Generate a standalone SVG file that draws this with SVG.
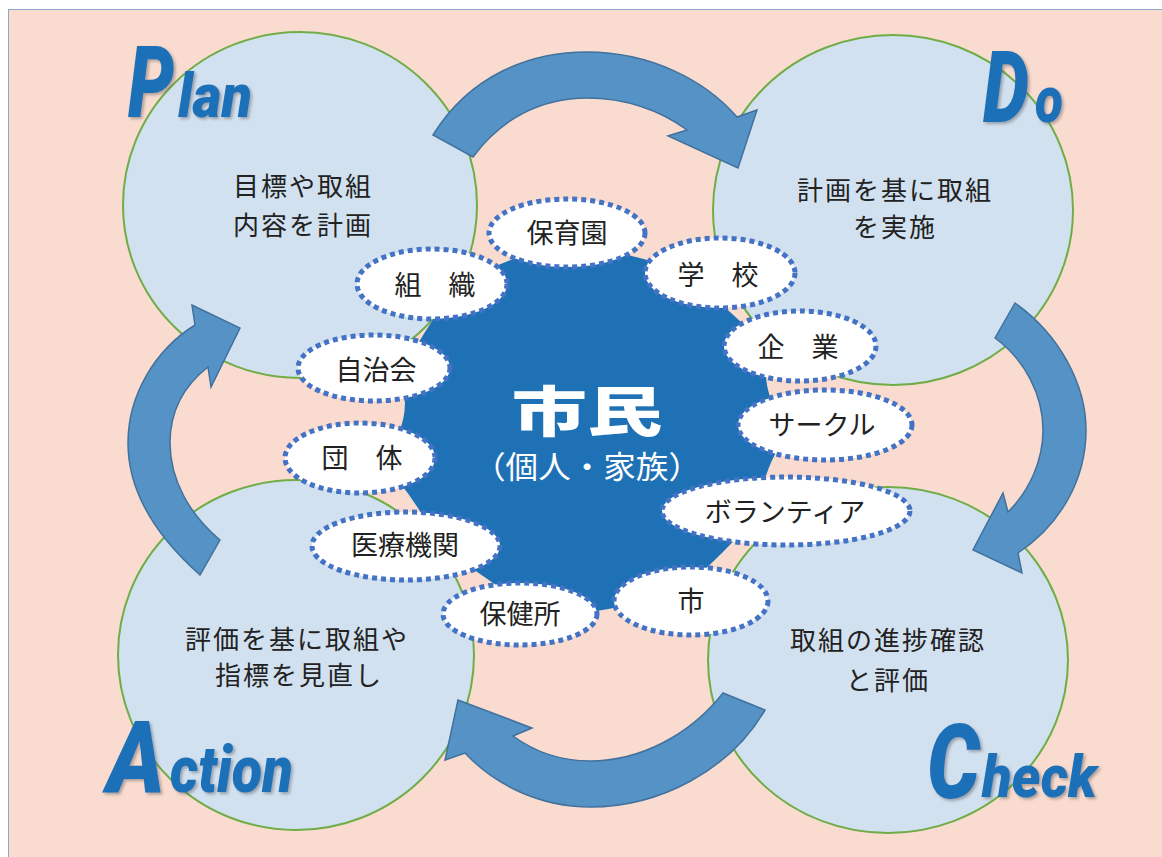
<svg xmlns="http://www.w3.org/2000/svg" width="1162" height="857" viewBox="0 0 1162 857">
<defs>
<style>
.circ{fill:#D2E1F0;stroke:#70AD47;stroke-width:2}
.arr{fill:#5592C6;stroke:#41719C;stroke-width:1.5;stroke-linejoin:miter}
.oval{fill:#FFFFFF;stroke:#4472C4;stroke-width:5;stroke-dasharray:5 4}
.jp{font-family:"Noto Sans CJK JP","Noto Sans CJK SC",sans-serif;fill:#222222;text-anchor:middle}
.ct{font-size:26px;letter-spacing:2px}
.lb{font-size:27px}
.big{font-family:Roboto,"Liberation Sans",sans-serif;font-weight:900;font-style:italic;fill:#1E70B8;filter:url(#sh)}
</style>
<filter id="sh" x="-20%" y="-20%" width="140%" height="140%">
<feDropShadow dx="2" dy="2" stdDeviation="1.5" flood-color="#555555" flood-opacity="0.45"/>
</filter>
</defs>
<rect x="8.5" y="9.5" width="1160" height="855" fill="#F9DCCF" stroke="#8EA9C9" stroke-width="1"/>

<g id="plan">
<ellipse class="circ" cx="300" cy="205" rx="177" ry="173"/>
<text class="jp ct" x="303" y="196">目標や取組</text>
<text class="jp ct" x="303" y="235">内容を計画</text>
</g>
<g id="do">
<ellipse class="circ" cx="893" cy="210" rx="180" ry="175"/>
<text class="jp ct" x="895" y="200">計画を基に取組</text>
<text class="jp ct" x="895" y="237">を実施</text>
</g>
<g id="action">
<ellipse class="circ" cx="296" cy="655" rx="178" ry="175"/>
<text class="jp ct" x="297" y="649">評価を基に取組や</text>
<text class="jp ct" x="299" y="685">指標を見直し</text>
</g>
<g id="check">
<ellipse class="circ" cx="888" cy="660" rx="180" ry="173"/>
<text class="jp ct" x="888" y="650">取組の進捗確認</text>
<text class="jp ct" x="888" y="690">と評価</text>
</g>

<g id="connectors">
<path class="arr" d="M433,135 C470,75 530,52 587,52 C650,52 705,80 737,117 L757,110 L738,168 L668,136 L687,130 C660,110 625,98 587,98 C540,98 500,120 473,157 Z"/>
<path class="arr" d="M1015,303 C1060,335 1086,385 1086,430 C1086,480 1060,525 1018,553 L1022,573 L973,550 L1003,493 L1008,512 C1030,490 1043,460 1043,430 C1043,395 1025,360 995,338 Z"/>
<path class="arr" d="M765,710 C730,770 660,807 590,807 C540,807 495,785 465,753 L445,760 L458,700 L532,728 L513,736 C535,752 560,761 590,761 C640,761 690,735 723,693 Z"/>
<path class="arr" d="M200,575 C155,535 128,490 128,443 C128,395 155,350 195,325 L192,305 L240,328 L211,387 L208,367 C185,385 170,410 170,443 C170,480 190,515 220,540 Z"/>
</g>

<g id="citizen">
<path fill="#1F71B6" d="M567,250 Q646.5,248.5 700,285 Q749,328.5 770,350 Q756,390 790,430 Q761,470 760,510 Q724,556 680,590 Q596,617.5 540,615 Q450,554 440,545 Q410,490 380,460 Q416,422.5 400,375 Q425,329 450,295 Q501.5,251.5 567,250 Z"/>
<text x="587" y="432" font-family="'Noto Sans CJK JP',sans-serif" font-weight="900" font-size="54" fill="#FFFFFF" text-anchor="middle" textLength="151" lengthAdjust="spacingAndGlyphs">市民</text>
<text x="587" y="478" font-family="'Noto Sans CJK JP',sans-serif" font-size="31" fill="#FFFFFF" text-anchor="middle" textLength="228" lengthAdjust="spacingAndGlyphs">（個人・家族）</text>
</g>

<g id="hoikuen"><ellipse class="oval" cx="567" cy="233" rx="78" ry="34"/><text class="jp lb" x="567" y="243">保育園</text></g>
<g id="soshiki"><ellipse class="oval" cx="432" cy="284" rx="75" ry="35"/><text class="jp lb" x="435" y="295">組　織</text></g>
<g id="gakko"><ellipse class="oval" cx="720" cy="273" rx="75" ry="35"/><text class="jp lb" x="718" y="285">学　校</text></g>
<g id="kigyo"><ellipse class="oval" cx="800" cy="346" rx="76" ry="35"/><text class="jp lb" x="798" y="357">企　業</text></g>
<g id="jichikai"><ellipse class="oval" cx="374" cy="368" rx="76" ry="33"/><text class="jp lb" x="376" y="380">自治会</text></g>
<g id="circle"><ellipse class="oval" cx="825" cy="425" rx="87" ry="35"/><text class="jp lb" x="822" y="435">サークル</text></g>
<g id="dantai"><ellipse class="oval" cx="360" cy="458" rx="75" ry="35"/><text class="jp lb" x="362" y="468">団　体</text></g>
<g id="volunteer"><ellipse class="oval" cx="786" cy="511" rx="124" ry="34"/><text class="jp lb" x="785" y="522">ボランティア</text></g>
<g id="iryo"><ellipse class="oval" cx="406" cy="546" rx="94" ry="34"/><text class="jp lb" x="405" y="555">医療機関</text></g>
<g id="hokenjo"><ellipse class="oval" cx="520" cy="614" rx="77" ry="31"/><text class="jp lb" x="520" y="624">保健所</text></g>
<g id="shi"><ellipse class="oval" cx="691" cy="601" rx="77" ry="34"/><text class="jp lb" x="691" y="611">市</text></g>

<g id="labels">
<text class="big" x="128" y="117"><tspan font-size="100" textLength="46" lengthAdjust="spacingAndGlyphs">P</tspan><tspan x="178" font-size="61" textLength="74" lengthAdjust="spacingAndGlyphs">lan</tspan></text>
<text class="big" x="983" y="122"><tspan font-size="100" textLength="46" lengthAdjust="spacingAndGlyphs">D</tspan><tspan x="1035" font-size="64" textLength="28" lengthAdjust="spacingAndGlyphs">o</tspan></text>
<text class="big" x="107" y="792"><tspan font-size="100" textLength="58" lengthAdjust="spacingAndGlyphs">A</tspan><tspan x="170" font-size="64" textLength="123" lengthAdjust="spacingAndGlyphs">ction</tspan></text>
<text class="big" x="927" y="798"><tspan font-size="104" textLength="53" lengthAdjust="spacingAndGlyphs">C</tspan><tspan x="982" y="797" font-size="59" textLength="115" lengthAdjust="spacingAndGlyphs">heck</tspan></text>
</g>
</svg>
